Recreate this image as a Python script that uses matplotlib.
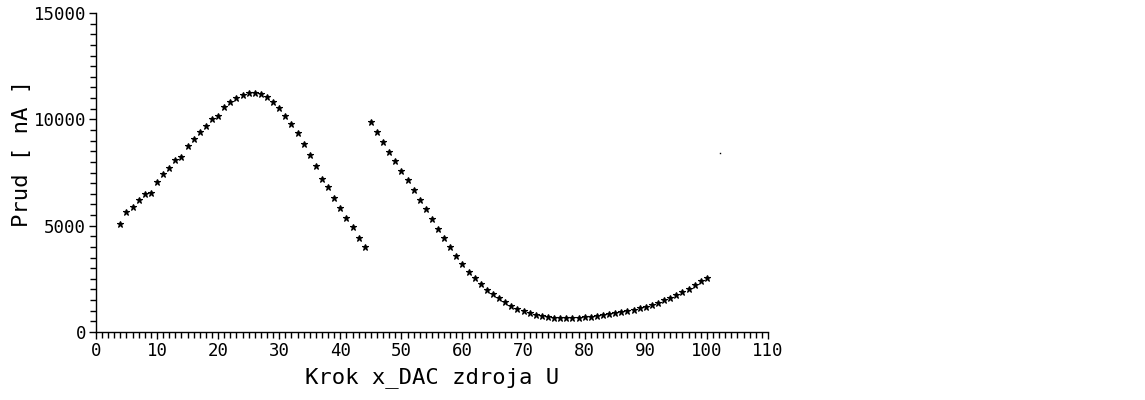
import numpy as np
import matplotlib
matplotlib.use("Agg")
import matplotlib.pyplot as plt
from matplotlib.ticker import MultipleLocator

plt.rcParams['font.family'] = ['DejaVu Sans Mono']

# first branch (DAC step 4..44)
krok1 = list(range(4, 45))
prud1 = [5080, 5660, 5890, 6220, 6500, 6540, 7070, 7410, 7710, 8070,
         8230, 8760, 9060, 9390, 9700, 10030, 10140, 10580, 10830, 11015,
         11130, 11220, 11220, 11175, 11050, 10800, 10520, 10170, 9790, 9340,
         8850, 8310, 7800, 7210, 6800, 6285, 5815, 5360, 4920, 4430, 3980]

# second branch (DAC step 45..100)
krok2 = list(range(45, 101))
prud2 = [9870, 9390, 8920, 8460, 8025, 7585, 7130, 6690, 6220, 5770,
         5310, 4860, 4420, 4010, 3570, 3210, 2820, 2550, 2260, 1990,
         1790, 1585, 1410, 1235, 1095, 985, 895, 800, 740, 690,
         645, 645, 645, 645, 660, 690, 705, 740, 785, 830,
         880, 925, 975, 1020, 1115, 1175, 1270, 1380, 1490, 1600,
         1725, 1865, 2005, 2195, 2385, 2525]

# stray point
krok3 = [102.2]
prud3 = [8400]

fig = plt.figure(figsize=(11.45, 4.0), dpi=100)
ax = fig.add_axes([0.0838, 0.17, 0.5869, 0.7975])

ax.plot(krok1, prud1, linestyle='none', marker='*', ms=4.5, color='black', mew=0.8)
ax.plot(krok2, prud2, linestyle='none', marker='*', ms=4.5, color='black', mew=0.8)
ax.plot(krok3, prud3, linestyle='none', marker='s', ms=1, color='black', mew=0)

ax.set_xlim(0, 110)
ax.set_ylim(0, 15000)
ax.xaxis.set_major_locator(MultipleLocator(10))
ax.xaxis.set_minor_locator(MultipleLocator(1))
ax.yaxis.set_major_locator(MultipleLocator(5000))
ax.yaxis.set_minor_locator(MultipleLocator(500))

for s in ['top', 'right']:
    ax.spines[s].set_visible(False)
for s in ['left', 'bottom']:
    ax.spines[s].set_linewidth(1.0)

ax.tick_params(axis='both', which='major', direction='out', length=5, width=1,
               labelsize=12.5, pad=2)
ax.tick_params(axis='both', which='minor', direction='out', length=4, width=1)

ax.set_xlabel('Krok x_DAC zdroja U', fontsize=16, labelpad=5)
ax.set_ylabel('Prud [ nA ]', fontsize=16)
ax.yaxis.set_label_coords(-0.095, 0.56)

fig.savefig('out.png', dpi=100, facecolor='white')
